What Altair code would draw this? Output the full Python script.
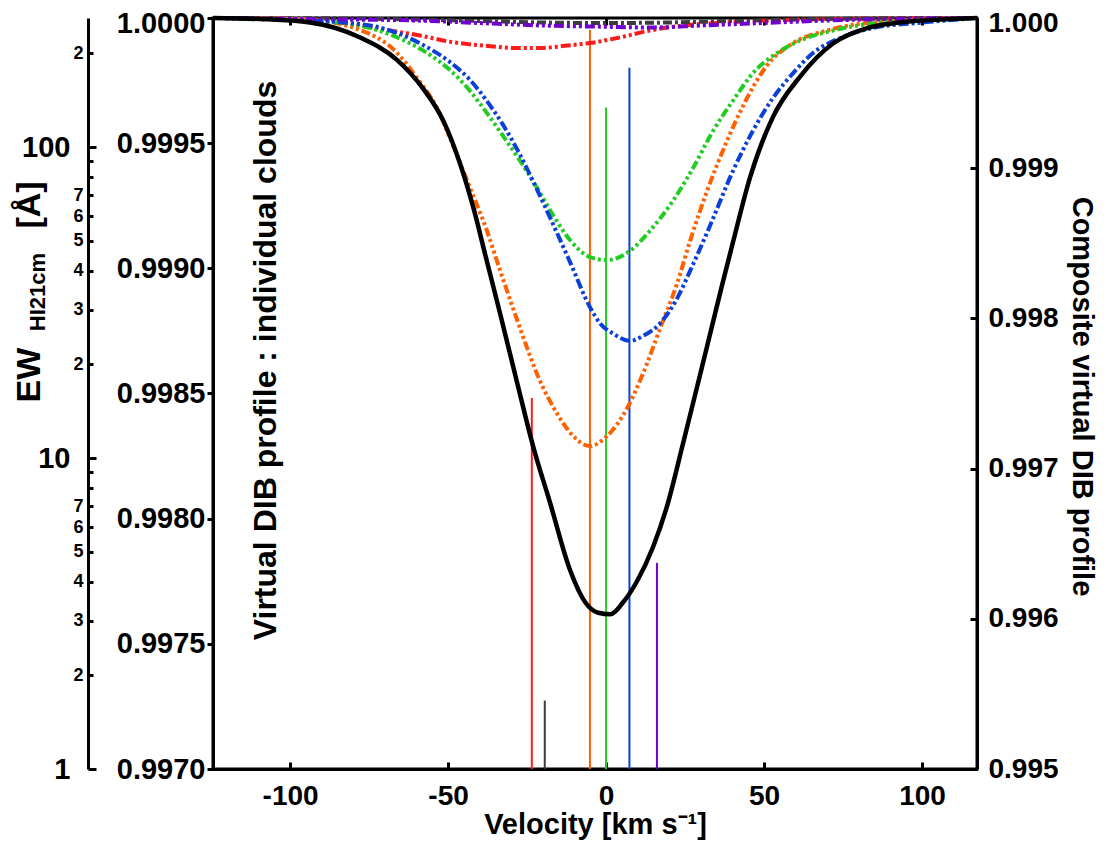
import altair as alt
import pandas as pd

FONT = "Liberation Sans, Arial, Helvetica, sans-serif"

# ---------------- data ----------------
cloud_names = ["C1", "C2", "C3", "C4", "C5", "C6"]
cloud_colors = ["#ff1a1a", "#3c3c3c", "#ff6000", "#22cc22", "#0a3fd8", "#7000d0"]
cloud_dash = [[10, 3, 3, 3, 3, 3], [9, 3, 3, 3], [9, 3, 3, 3, 3, 3, 3, 3],
              [9, 3, 3, 3, 3, 3, 3, 3], [10, 3, 3, 3, 3, 3], [10, 3, 3, 3, 3, 3, 3, 3]]

# cloud velocities and HI 21cm equivalent widths (vertical markers)
cloud_velocity = [-23.5, -19.4, -5.1, 0.0, 7.4, 16.1]
cloud_ew = [15.6, 1.66, 238.0, 134.0, 180.0, 4.6]

# individual cloud profiles (velocity, normalised flux)
red_v = [-124.4, -96.8, -81.0, -68.4, -58.9, -49.4, -38.9, -28.2, -20.9, -12.3, -5.1, 3.5, 13.9, 24.4, 35.1, 50.9, 80.0, 117.4]
red_f = [1.0, 0.999996, 0.999976, 0.99995, 0.99993, 0.999905, 0.99989, 0.99988, 0.99988, 0.99989, 0.99990, 0.99992, 0.99995, 0.99997, 0.99998, 0.99999, 0.999997, 1.0]

gray_v = [-124.4, -80.0, -60.0, -40.0, -20.0, 0.0, 20.0, 40.0, 60.0, 80.0, 117.4]
gray_f = [1.0, 0.999998, 0.999994, 0.999988, 0.999982, 0.99998, 0.999982, 0.999988, 0.999994, 0.999998, 1.0]

orange_v = [-124.4, -96.8, -77.8, -66.1, -59.8, -53.5, -49.4, -43.0, -37.7, -33.5, -29.7, -27.2, -20.9, -15.5, -10.4, -5.1, 0.3, 6.6, 11.7, 17.1, 22.5, 26.6, 32.0, 38.3, 43.4, 50.9, 59.2, 69.9, 82.6, 117.4]
orange_f = [1.0, 0.999996, 0.999952, 0.99986, 0.99976, 0.99964, 0.99952, 0.99932, 0.99915, 0.99899, 0.99885, 0.99876, 0.99855, 0.99842, 0.99833, 0.99829, 0.99833, 0.99844, 0.99858, 0.99876, 0.99894, 0.99911, 0.99931, 0.99951, 0.99965, 0.99981, 0.99990, 0.99995, 0.99998, 1.0]

green_v = [-124.4, -96.8, -83.2, -72.5, -64.2, -56.6, -49.4, -43.0, -37.7, -32.6, -27.2, -21.8, -16.8, -11.4, -5.1, 0.3, 7.6, 13.9, 21.2, 27.5, 33.9, 40.2, 46.5, 54.1, 61.4, 71.8, 85.8, 117.4]
green_f = [1.0, 0.99999, 0.99998, 0.999952, 0.999912, 0.99986, 0.999792, 0.999708, 0.99962, 0.999529, 0.999429, 0.999321, 0.999213, 0.999113, 0.999045, 0.999033, 0.99907, 0.99915, 0.99927, 0.99940, 0.99955, 0.99967, 0.99978, 0.99986, 0.99991, 0.99995, 0.99998, 1.0]

blue_v = [-124.4, -96.8, -74.7, -66.1, -57.9, -49.4, -43.0, -37.7, -32.6, -27.2, -21.8, -16.8, -11.4, -5.1, -1.9, 2.2, 7.6, 11.7, 17.1, 22.5, 26.6, 32.9, 40.2, 46.5, 52.8, 59.2, 65.5, 74.1, 84.5, 98.4, 117.4]
blue_f = [1.0, 0.999992, 0.99997, 0.99994, 0.999892, 0.999824, 0.999752, 0.999668, 0.999573, 0.999453, 0.999313, 0.999177, 0.999025, 0.998845, 0.99878, 0.99874, 0.99871, 0.99873, 0.99878, 0.99888, 0.99899, 0.99917, 0.99939, 0.99955, 0.99968, 0.99978, 0.99986, 0.99992, 0.99996, 0.99998, 1.0]

purple_v = [-124.4, -90.0, -60.0, -40.0, -20.0, 0.0, 15.0, 30.0, 50.0, 70.0, 90.0, 117.4]
purple_f = [1.0, 0.999995, 0.99999, 0.99998, 0.99997, 0.999965, 0.999962, 0.99997, 0.99998, 0.99999, 0.999996, 1.0]

# composite profile
comp_v = [-124.4, -109.5, -93.7, -77.8, -66.1, -57.9, -51.6, -46.2, -41.8, -38.3, -33.5, -28.2, -23.1, -17.7, -11.4, -6.6, -2.5, 1.3, 5.4, 9.8, 14.9, 19.3, 24.4, 29.7, 33.9, 36.7, 40.2, 45.6, 52.8, 61.4, 71.8, 82.6, 93.0, 105.7, 117.4]
comp_f = [1.0, 0.999993, 0.99997, 0.99987, 0.99972, 0.99953, 0.99932, 0.99903, 0.998722, 0.998429, 0.998029, 0.997577, 0.99715, 0.996771, 0.996325, 0.99611, 0.99604, 0.99603, 0.99611, 0.99625, 0.99648, 0.99675, 0.99717, 0.99762, 0.99798, 0.99822, 0.99851, 0.99894, 0.99934, 0.99961, 0.99983, 0.999933, 0.99997, 0.99999, 1.0]

# axis ticks / labels
x_ticks = [-100, -50, 0, 50, 100]
left_ticks = [0.997, 0.9975, 0.998, 0.9985, 0.999, 0.9995, 1.0]
right_ticks = [0.995, 0.996, 0.997, 0.998, 0.999, 1.0]
ew_ticks = [1, 2, 3, 4, 5, 6, 7, 8, 9, 10, 20, 30, 40, 50, 60, 70, 80, 90, 100, 200]
ew_title_parts = ["EW", "HI21cm", "[Å]"]

x_title = "Velocity [km s⁻¹]"
left_title = "Virtual DIB profile : individual clouds"
right_title = "Composite virtual DIB profile"

# ---------------- tables ----------------
series = [(red_v, red_f), (gray_v, gray_f), (orange_v, orange_f),
          (green_v, green_f), (blue_v, blue_f), (purple_v, purple_f)]
frames = []
for name, (vv, ff) in zip(cloud_names, series):
    frames.append(pd.DataFrame({"cloud": name, "v": vv, "f": ff}))
indiv_df = pd.concat(frames, ignore_index=True)
comp_df = pd.DataFrame({"v": comp_v, "f": comp_f})
rules_df = pd.DataFrame({"cloud": cloud_names, "v": cloud_velocity, "ew": cloud_ew,
                         "base": [1.0] * len(cloud_names)})

W, H = 764, 751
x_dom = [-124.4, 117.4]

color_scale = alt.Scale(domain=cloud_names, range=cloud_colors)
dash_scale = alt.Scale(domain=cloud_names, range=cloud_dash)

major_test = "datum.value == 1 || datum.value == 10 || datum.value == 100"
lead = "(datum.value < 10 ? datum.value : (datum.value < 100 ? datum.value / 10 : datum.value / 100))"
ew_label_expr = f"({major_test}) ? datum.label : ({lead} >= 8 ? '' : '' + round({lead}))"
top_label_offset = {"condition": {"test": "datum.value >= 0.99999", "value": 5}, "value": 0}

# vertical markers: EW of HI 21cm on a log axis
rules = alt.Chart(rules_df).mark_rule(strokeWidth=2).encode(
    x=alt.X("v:Q", scale=alt.Scale(domain=x_dom, nice=False, zero=False),
            axis=alt.Axis(orient="top", values=x_ticks, labels=False, title=None,
                          domain=False, tickSize={"expr": "-7"}, tickWidth=3)),
    y=alt.Y("ew:Q", scale=alt.Scale(type="log", domain=[1, 260], nice=False),
            axis=alt.Axis(orient="left", offset=125, values=ew_ticks, title=None,
                          labelExpr=ew_label_expr,
                          labelFontSize={"condition": {"test": major_test, "value": 29}, "value": 18},
                          labelPadding={"condition": {"test": major_test, "value": 26}, "value": 10},
                          tickSize={"condition": {"test": major_test, "value": -8}, "value": -5},
                          labelBaseline="middle")),
    y2="base:Q",
    color=alt.Color("cloud:N", scale=color_scale, legend=None),
)

indiv = alt.Chart(indiv_df).mark_line(strokeWidth=4, interpolate="monotone").encode(
    x=alt.X("v:Q", scale=alt.Scale(domain=x_dom, nice=False, zero=False),
            axis=alt.Axis(orient="bottom", values=x_ticks, title=x_title,
                          labelExpr="'' + datum.value", labelFontSize=28,
                          tickSize={"expr": "-7"}, labelPadding=20,
                          titleFontSize=29, titleY=55, titleBaseline="middle")),
    y=alt.Y("f:Q", scale=alt.Scale(domain=[0.997, 1.0], nice=False, zero=False),
            axis=alt.Axis(orient="left", values=left_ticks, format=".4f", title=left_title,
                          labelFontSize=29, tickSize=6, labelPadding=2,
                          labelOffset=top_label_offset,
                          titleFontSize=32, titleX=52, titleY=342, titleAngle=270,
                          titleAlign="center", titleBaseline="middle")),
    color=alt.Color("cloud:N", scale=color_scale, legend=None),
    strokeDash=alt.StrokeDash("cloud:N", scale=dash_scale, legend=None),
    detail="cloud:N",
)

comp = alt.Chart(comp_df).mark_line(strokeWidth=4.5, color="black", interpolate="monotone").encode(
    x=alt.X("v:Q", scale=alt.Scale(domain=x_dom, nice=False, zero=False), axis=None),
    y=alt.Y("f:Q", scale=alt.Scale(domain=[0.995, 1.0], nice=False, zero=False),
            axis=alt.Axis(orient="right", values=right_ticks, format=".3f", title=right_title,
                          labelFontSize=28, tickSize={"expr": "-7"}, labelPadding=18,
                          labelOffset=top_label_offset,
                          titleFontSize=29, titleX=104, titleY=378, titleAngle=90,
                          titleAlign="center", titleBaseline="middle")),
)

ew_main = alt.Chart(pd.DataFrame({"t": [ew_title_parts[0]]})).mark_text(
    angle=270, fontSize=34, fontWeight="bold", font=FONT, align="center", baseline="middle", color="black"
).encode(text="t:N", x=alt.value(-183), y=alt.value(357))
ew_sub = alt.Chart(pd.DataFrame({"t": [ew_title_parts[1]]})).mark_text(
    angle=270, fontSize=22, fontWeight="bold", font=FONT, align="center", baseline="middle", color="black"
).encode(text="t:N", x=alt.value(-175), y=alt.value(274))
ew_unit = alt.Chart(pd.DataFrame({"t": [ew_title_parts[2]]})).mark_text(
    angle=270, fontSize=34, fontWeight="bold", font=FONT, align="center", baseline="middle", color="black"
).encode(text="t:N", x=alt.value(-183), y=alt.value(187))

chart = alt.layer(rules, indiv, comp, ew_main, ew_sub, ew_unit).resolve_scale(
    x="independent", y="independent", color="shared", strokeDash="independent"
).properties(
    width=W, height=H,
    autosize=alt.AutoSizeParams(type="none"),
    padding={"top": 10, "left": 205, "right": 124, "bottom": 71}
).configure_axis(
    labelFont=FONT, titleFont=FONT, labelFontWeight="bold", titleFontWeight="bold",
    labelColor="black", titleColor="black", domainColor="black", domainWidth=3,
    tickColor="black", tickWidth=3, grid=False
).configure_view(stroke="black", strokeWidth=3)

chart.save("out.html", embed_options={"renderer": "svg", "actions": False})
